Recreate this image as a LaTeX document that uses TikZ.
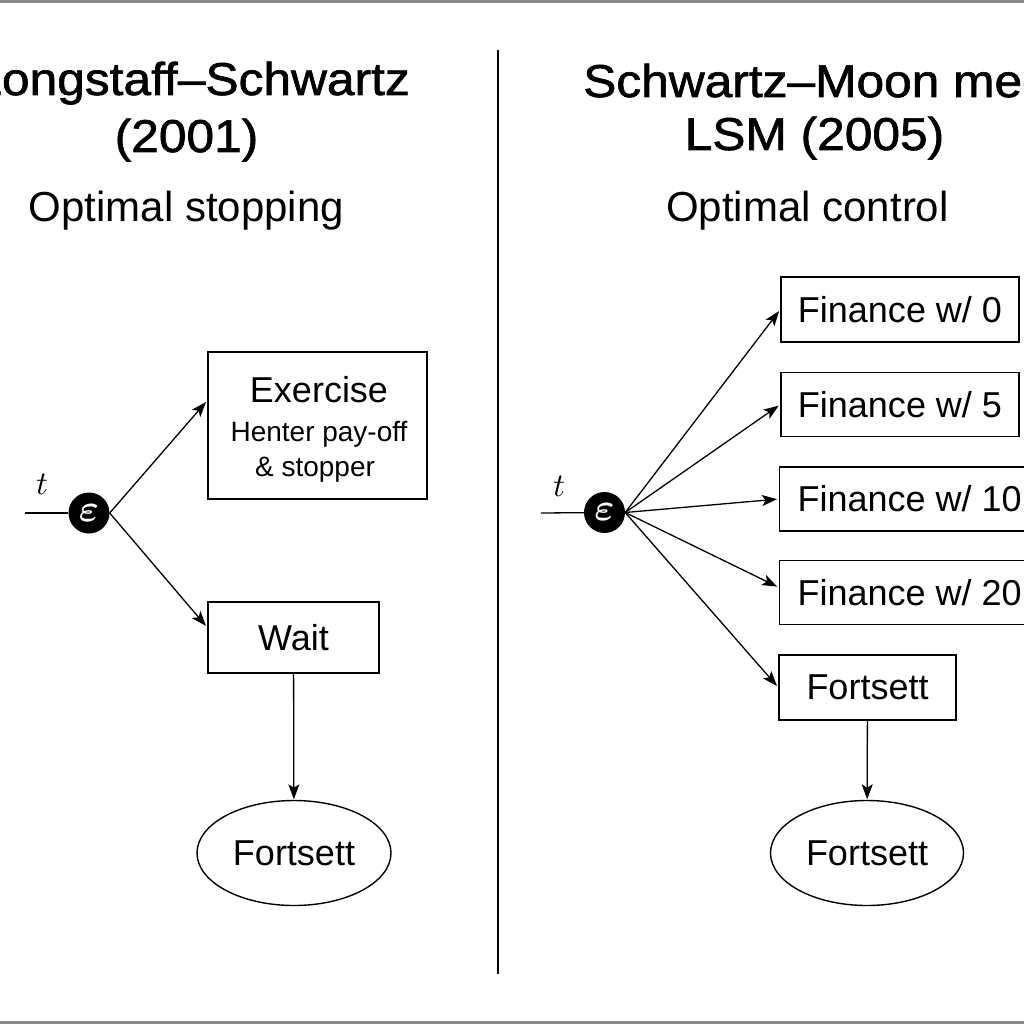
\documentclass[tikz,border=0pt]{standalone}
\usepackage{fontspec}
\setmainfont{Liberation Sans}
\newfontfamily\titlefam[FakeBold=1.4,FakeStretch=1.08]{Liberation Sans}
\usepackage{bm}
\usepackage{graphicx}
\usetikzlibrary{arrows.meta,shapes.geometric}
\definecolor{framegray}{RGB}{138,138,138}
\newcommand\boxfont{\fontsize{36}{43}\selectfont}
\newcommand\titlesize{\titlefam\fontsize{46}{55}\selectfont}
\newcommand\subsize{\fontsize{42}{50}\selectfont}
\begin{document}
\begin{tikzpicture}[x=1pt,y=-1pt,
  box/.style={draw, line width=1.4pt, rectangle, inner sep=0pt, font=\boxfont},
  ell/.style={draw, line width=1.4pt, ellipse, inner sep=0pt, minimum width=194pt, minimum height=105pt, font=\boxfont},
  dot/.style={circle, fill=black, minimum size=41pt, inner sep=0pt, text=white, font=\fontsize{10}{12}\selectfont},
  conn/.style={line width=1.3pt, -{Stealth[length=15pt,width=11pt,inset=3.5pt]}, shorten >=2pt},
  tline/.style={line width=1.3pt},
  tlabel/.style={font=\fontsize{10}{12}\selectfont, inner sep=0pt},
  frameline/.style={draw=framegray, line width=2.6pt},
]
\useasboundingbox (0,0) rectangle (1024,1024);
\clip (0,0) rectangle (1024,1024);
\fill[white] (0,0) rectangle (1024,1024);
\draw[frameline] (0,1.3) -- (1024,1.3);
\draw[frameline] (0,1022.7) -- (1024,1022.7);
\draw[line width=1.5pt] (498,50) -- (498,974);

% titles
\node[anchor=base east, font=\titlesize, inner sep=0pt] (lt1) at (410,95) {Longstaff–Schwartz};
\node[anchor=base, font=\titlesize, inner sep=0pt] (lt2) at (186.5,152) {(2001)};
\node[anchor=base, font=\subsize, inner sep=0pt] (ls) at (186.5,222) {Optimal stopping};
\node[anchor=base west, font=\titlesize, inner sep=0pt] (rt1) at (583,97) {Schwartz–Moon med};
\node[anchor=base, font=\titlesize, inner sep=0pt] (rt2) at (814.5,150) {LSM (2005)};
\node[anchor=base, font=\subsize, inner sep=0pt] (rs) at (807.5,222) {Optimal control};

% left diagram
\coordinate (l0) at (25,513);
\node[dot] (c1) at (89,513) {\scalebox{3.8}{$\bm{\varepsilon}$}};
\node[tlabel] (tl) at (42,484) {\scalebox{3.3}{$t$}};
\draw[tline] (l0) -- (c1);
\node[box, minimum width=219pt, minimum height=147pt] (ex) at (317.5,425.5) {};
\node[anchor=base, font=\fontsize{36}{36}\selectfont, inner sep=0pt] (ext) at (319,402) {Exercise};
\node[anchor=base, font=\fontsize{28}{28}\selectfont, inner sep=0pt] (ex2) at (319,441) {Henter pay-off};
\node[anchor=base, font=\fontsize{28}{28}\selectfont, inner sep=0pt] (ex3) at (315,476) {\& stopper};
\node[box, minimum width=171pt, minimum height=71pt] (wait) at (293.5,637.5) {Wait};
\node[ell] (fl) at (294,853) {Fortsett};
\draw[conn] (c1.east) -- ([yshift=25pt]ex.west);
\draw[conn] (c1.east) -- ([yshift=10pt]wait.west);
\draw[conn, shorten >=0.5pt] (wait) -- (fl);

% right diagram
\coordinate (r0) at (541,513);
\node[dot] (c2) at (604.5,512.5) {\scalebox{3.8}{$\bm{\varepsilon}$}};
\node[tlabel] (tr) at (559,486) {\scalebox{3.3}{$t$}};
\draw[tline] (r0) -- (c2);
\node[box, minimum width=238pt, minimum height=65pt] (f0) at (900,309.5) {Finance w/ 0};
\node[box, minimum width=238pt, minimum height=64pt] (f5) at (900,404.5) {Finance w/ 5};
\node[box, anchor=west, minimum width=260pt, minimum height=64pt] (f10) at (779,499) {Finance w/ 10};
\node[box, anchor=west, minimum width=260pt, minimum height=64pt] (f20) at (779,592.5) {Finance w/ 20};
\node[box, minimum width=177pt, minimum height=65pt] (fb) at (867.5,687.5) {Fortsett};
\node[ell, minimum width=193pt] (fr) at (867,853) {Fortsett};
\draw[conn] (c2.east) -- (f0.west);
\draw[conn] (c2.east) -- (f5.west);
\draw[conn] (c2.east) -- (f10.west);
\draw[conn] (c2.east) -- ([yshift=5pt]f20.west);
\draw[conn] (c2.east) -- (fb.west);
\draw[conn, shorten >=0.5pt] (fb) -- (fr);
\end{tikzpicture}
\end{document}
